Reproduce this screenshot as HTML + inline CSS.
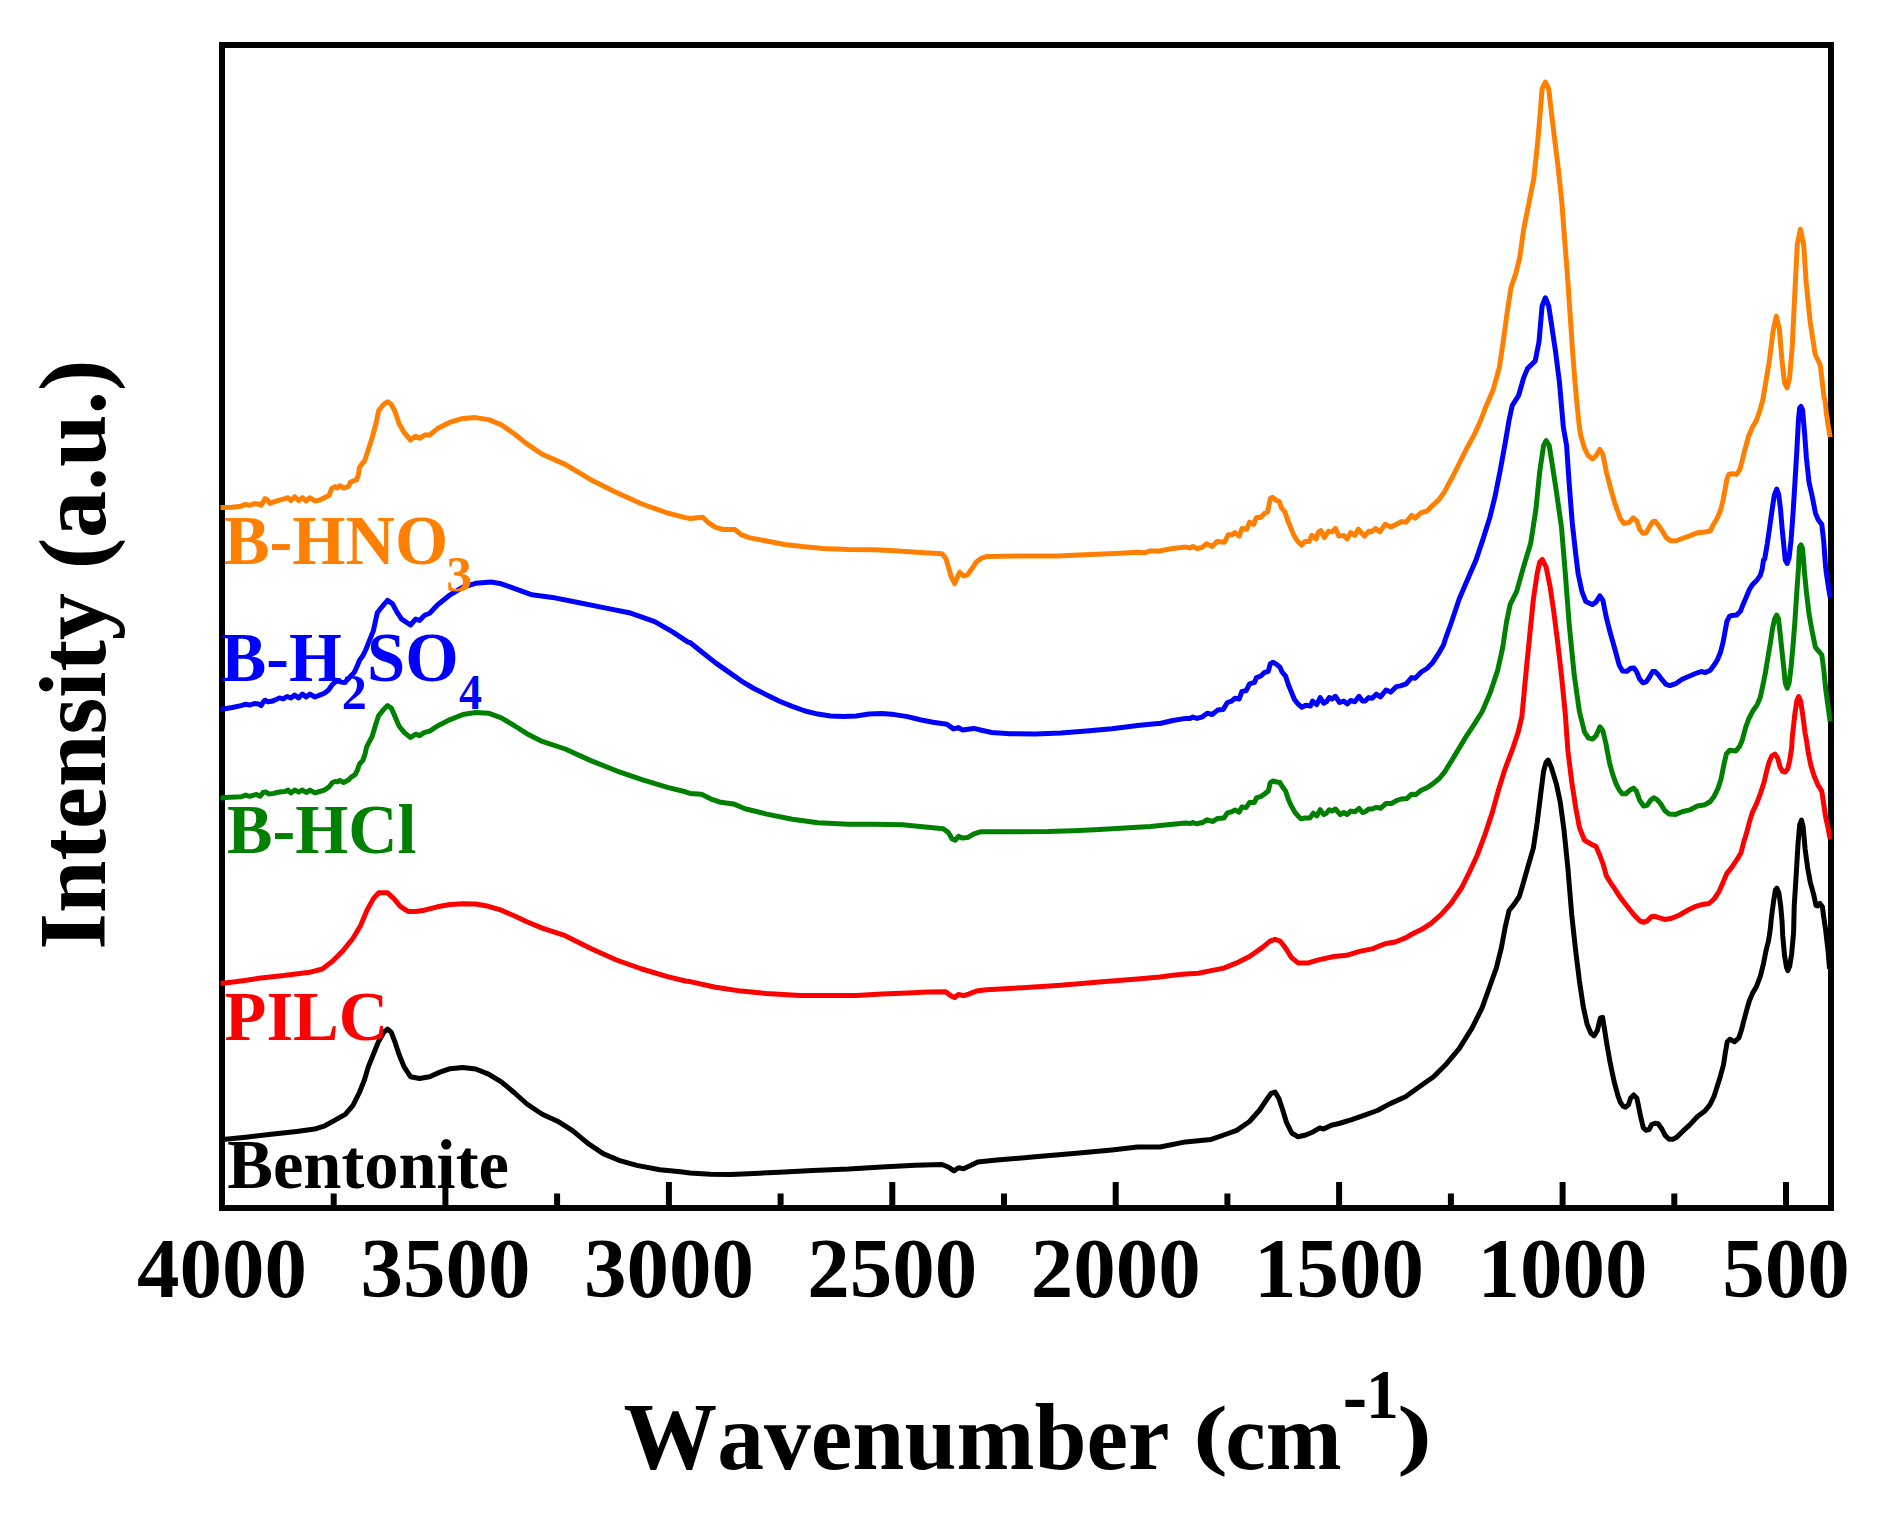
<!DOCTYPE html>
<html><head><meta charset="utf-8"><title>FTIR spectra</title>
<style>
html,body{margin:0;padding:0;background:#fff;}
svg{display:block;}
text{font-kerning:none;font-family:"Liberation Serif",serif;font-weight:bold;}
</style></head>
<body>
<svg width="1877" height="1513" viewBox="0 0 1877 1513">
<rect x="0" y="0" width="1877" height="1513" fill="#fff"/>
<rect x="222" y="45" width="1609" height="1163" fill="none" stroke="#000" stroke-width="6"/>
<g fill="none" stroke-width="5" stroke-linejoin="round" stroke-linecap="butt">
<polyline points="220.5,1139.8 245.6,1137.3 271.1,1134.2 296.7,1131.4 314.6,1129.1 324.8,1125.8 335.1,1120.1 345.3,1114.3 353.0,1105.3 359.4,1092.5 364.5,1079.7 368.3,1066.9 373.4,1054.2 378.6,1041.4 383.7,1032.4 387.5,1029.1 391.3,1032.4 395.2,1042.7 399.0,1054.2 404.1,1066.9 410.5,1076.7 419.5,1078.5 429.7,1076.7 439.9,1072.1 450.2,1068.7 462.9,1067.5 475.7,1069.0 488.5,1074.1 501.3,1081.8 514.1,1092.5 526.9,1104.0 542.2,1114.3 557.6,1121.2 572.9,1130.9 588.2,1143.7 603.6,1153.9 618.9,1160.3 636.8,1165.4 659.9,1169.7 680.3,1171.8 690.0,1172.9 710.5,1174.2 730.9,1174.5 753.9,1173.4 779.5,1172.2 812.7,1170.4 848.6,1169.1 881.8,1167.0 915.0,1165.3 941.9,1164.5 948.3,1167.0 953.9,1170.9 958.5,1167.8 963.6,1168.8 970.0,1165.8 977.7,1161.9 996.9,1160.1 1035.2,1156.8 1073.6,1153.5 1111.9,1149.9 1137.5,1147.1 1160.0,1147.0 1185.6,1141.9 1211.1,1139.4 1223.9,1135.0 1236.7,1130.4 1249.5,1121.5 1259.7,1110.0 1267.4,1098.5 1271.2,1093.3 1275.1,1092.1 1278.9,1098.5 1282.7,1110.0 1286.6,1122.7 1291.7,1133.0 1298.1,1136.8 1305.8,1135.0 1313.4,1131.7 1319.8,1127.9 1323.7,1129.1 1331.3,1125.3 1339.0,1123.5 1351.8,1119.7 1364.6,1115.1 1377.4,1110.5 1390.2,1103.6 1405.5,1096.7 1420.8,1085.7 1433.6,1076.7 1446.4,1063.9 1459.2,1048.6 1472.0,1028.1 1482.2,1007.7 1489.9,986.0 1496.3,968.1 1501.4,947.6 1505.2,927.1 1509.1,910.5 1514.2,904.1 1519.3,896.5 1523.1,883.7 1528.2,865.8 1533.4,847.9 1537.2,822.3 1541.0,791.6 1543.6,771.1 1546.1,762.2 1548.2,760.1 1551.3,767.3 1556.4,783.9 1560.2,801.8 1564.0,830.0 1567.9,868.3 1571.7,914.4 1575.6,950.2 1579.4,980.8 1583.2,1006.4 1587.1,1024.3 1590.9,1033.3 1594.0,1035.8 1597.3,1030.7 1600.4,1017.9 1602.6,1017.4 1604.5,1029.0 1607.1,1045.6 1610.3,1063.6 1614.1,1081.5 1617.9,1095.6 1620.3,1102.1 1622.8,1105.9 1625.4,1107.2 1628.6,1104.6 1630.5,1098.2 1633.7,1095.0 1636.9,1098.2 1638.8,1107.2 1640.8,1117.4 1643.3,1127.7 1645.9,1130.3 1649.1,1129.6 1651.7,1124.5 1654.9,1123.2 1658.1,1123.8 1661.9,1129.0 1665.1,1135.4 1669.0,1139.2 1672.8,1139.2 1676.7,1137.3 1683.1,1130.9 1689.5,1125.1 1697.2,1116.8 1704.9,1111.0 1710.0,1104.6 1713.8,1096.9 1717.1,1086.7 1720.3,1076.4 1723.5,1064.9 1725.4,1052.1 1727.3,1041.8 1729.9,1039.2 1734.4,1041.8 1738.8,1037.9 1741.4,1030.3 1743.3,1022.6 1746.8,1009.7 1749.4,1000.8 1752.6,993.1 1756.4,986.7 1760.3,976.4 1763.5,963.6 1766.0,950.8 1768.6,940.5 1770.5,927.7 1771.2,919.5 1773.7,900.3 1775.4,890.0 1776.9,888.1 1778.8,892.6 1780.8,906.7 1782.1,922.1 1782.7,935.4 1784.6,955.9 1786.5,967.4 1787.8,970.6 1789.7,966.2 1791.7,953.3 1793.6,932.8 1794.2,906.7 1796.2,874.6 1798.1,842.6 1799.7,824.6 1801.5,820.1 1803.2,827.2 1805.1,849.0 1807.7,868.2 1810.3,882.3 1813.5,893.8 1816.0,905.4 1817.9,906.0 1819.9,903.5 1822.4,906.7 1823.7,916.9 1825.6,929.7 1828.2,952.1 1829.5,968.7" stroke="#000000"/>
<polyline points="220.5,983.5 235.3,981.8 248.1,980.0 260.9,977.9 283.9,975.4 309.5,972.3 322.3,969.0 332.5,961.3 342.7,951.1 353.0,938.3 360.6,925.5 367.0,910.2 373.4,898.6 378.6,892.8 387.5,892.8 393.9,898.6 400.3,906.3 408.0,911.4 415.6,911.4 424.6,910.2 437.4,906.8 450.2,904.5 462.9,903.8 475.7,904.0 488.5,906.3 501.3,910.2 514.1,915.8 526.9,921.7 542.2,928.1 565.2,935.7 590.8,948.5 616.4,960.0 641.9,969.0 667.5,976.6 685.4,981.0 690.0,981.6 715.6,987.2 741.1,991.1 766.7,993.6 800.0,995.4 833.2,995.4 856.2,995.4 881.8,994.1 907.4,993.1 927.8,992.1 945.7,991.8 950.8,995.7 954.7,997.5 958.5,994.4 963.6,995.7 968.7,994.1 976.4,991.1 986.6,989.8 1022.4,987.7 1060.8,985.2 1099.2,982.1 1137.5,979.1 1160.0,977.0 1172.8,975.2 1185.6,973.9 1198.4,973.2 1211.1,970.6 1223.9,968.1 1236.7,962.9 1249.5,956.5 1262.3,947.6 1270.0,941.2 1275.1,939.4 1280.2,941.2 1285.3,947.6 1291.7,957.8 1298.1,962.9 1308.3,962.9 1318.6,959.9 1333.9,956.5 1346.7,955.3 1359.5,951.4 1372.3,948.9 1385.0,943.8 1395.3,942.0 1405.5,937.9 1413.2,933.5 1423.4,928.4 1431.1,923.3 1441.3,914.4 1451.5,902.8 1461.8,887.5 1469.4,872.2 1477.1,855.5 1484.8,835.1 1492.4,812.1 1498.8,789.0 1505.2,768.6 1512.9,748.1 1518.0,732.8 1521.9,716.6 1525.7,675.7 1529.5,637.4 1533.4,599.0 1537.2,573.4 1539.8,561.9 1542.3,559.4 1546.1,567.0 1550.0,586.2 1553.8,611.8 1557.7,642.5 1561.5,675.7 1565.3,714.1 1567.9,750.7 1571.7,781.4 1575.6,806.9 1579.4,827.4 1584.5,840.2 1590.9,844.0 1596.0,846.6 1599.9,855.5 1603.2,864.4 1606.4,875.9 1610.3,882.3 1614.7,888.7 1619.2,895.8 1624.4,902.8 1629.5,909.2 1634.6,915.6 1639.7,920.8 1643.6,922.3 1647.4,920.8 1651.3,916.7 1655.1,916.3 1660.3,918.2 1665.4,919.5 1671.8,918.2 1679.5,915.0 1687.2,910.5 1694.9,906.7 1702.6,904.4 1709.0,903.5 1714.1,899.0 1719.2,891.3 1723.1,882.3 1726.9,873.3 1732.1,866.9 1737.2,859.2 1741.0,852.8 1743.6,842.6 1746.8,832.3 1749.4,822.1 1752.6,811.8 1756.4,804.1 1760.3,793.8 1764.1,782.3 1766.7,770.8 1769.2,761.8 1771.8,756.0 1775.0,754.1 1777.6,757.9 1780.1,766.9 1782.7,771.4 1785.3,772.1 1787.8,768.8 1789.7,760.5 1791.7,747.7 1792.3,736.9 1794.9,713.8 1796.8,701.0 1798.7,696.5 1800.6,701.0 1802.6,713.8 1805.1,733.1 1806.4,740.0 1808.3,752.8 1810.9,765.6 1814.1,775.9 1817.9,784.9 1821.8,791.3 1823.7,804.1 1825.6,816.9 1828.2,828.5 1830.1,838.7" stroke="#FF0000"/>
<polyline points="220.5,797.9 229.5,797.3 241.0,796.8 245.8,795.1 249.6,796.3 256.4,794.4 260.2,796.3 263.1,792.5 265.9,792.0 268.8,794.1 273.6,793.4 279.4,792.0 285.1,791.5 288.0,790.1 290.9,792.9 294.7,790.1 298.6,792.0 302.4,790.1 306.2,792.5 310.1,790.1 314.9,792.9 319.7,791.5 324.4,790.1 329.2,786.7 332.1,782.9 335.0,781.4 337.4,781.9 339.8,780.5 343.6,782.4 348.4,780.0 351.3,777.1 355.1,774.7 357.5,769.9 359.4,764.2 362.8,760.3 365.2,753.6 366.6,746.9 372.2,736.3 376.0,723.5 378.6,715.8 383.7,709.4 387.5,705.6 391.3,708.1 395.2,717.1 399.0,726.0 404.1,732.4 410.5,737.5 415.6,734.2 419.5,735.7 424.6,732.4 429.7,731.1 437.4,726.0 450.2,719.6 462.9,714.5 475.7,712.5 488.5,713.2 501.3,717.8 514.1,725.5 526.9,733.7 542.2,741.4 565.2,749.0 590.8,760.6 616.4,770.8 641.9,779.7 667.5,787.4 685.4,791.8 690.0,793.4 701.5,794.2 710.5,798.8 720.7,802.3 733.5,803.9 745.0,808.7 766.7,814.1 792.3,819.2 817.9,822.8 848.6,824.3 874.1,824.3 902.3,824.8 920.2,826.4 943.2,828.7 948.3,832.5 952.1,838.9 955.4,840.2 958.5,836.4 962.3,838.1 967.5,837.6 973.9,833.8 980.3,831.8 1009.7,831.8 1048.0,831.5 1073.6,830.7 1099.2,829.5 1124.7,827.9 1150.3,826.4 1160.0,825.6 1172.8,824.3 1185.6,823.1 1190.0,823.6 1192.8,822.6 1196.9,823.8 1202.5,822.5 1207.3,819.8 1212.9,821.5 1217.7,818.4 1223.9,818.0 1227.4,812.9 1231.6,811.8 1235.0,810.1 1239.2,812.2 1241.9,806.9 1246.1,807.6 1249.6,802.4 1254.4,802.4 1256.5,797.9 1260.6,796.6 1264.8,793.8 1268.3,791.0 1270.3,782.7 1273.1,781.0 1276.6,782.0 1279.8,782.4 1282.1,786.2 1285.6,791.0 1288.3,799.3 1291.1,805.6 1294.6,811.8 1298.0,815.9 1300.8,818.7 1305.0,818.0 1309.8,818.0 1313.3,813.2 1316.7,815.9 1320.2,809.7 1323.7,814.6 1326.4,813.2 1329.2,809.7 1332.0,811.1 1335.4,809.0 1340.3,814.6 1343.8,812.5 1347.2,814.6 1350.7,811.1 1354.8,811.8 1359.0,808.3 1362.5,812.5 1365.2,811.8 1368.7,809.0 1372.2,809.0 1376.3,807.4 1380.5,808.3 1386.0,803.5 1391.5,803.5 1396.4,800.7 1401.2,799.0 1406.8,798.6 1411.6,794.2 1415.8,794.5 1421.3,790.3 1426.9,787.8 1432.4,784.1 1439.3,778.5 1444.9,771.6 1450.0,763.3 1451.5,760.9 1459.2,748.1 1466.9,735.3 1474.5,723.8 1482.2,711.5 1489.9,693.6 1497.6,670.6 1502.7,647.6 1506.5,622.0 1510.3,604.1 1516.7,591.3 1523.1,568.3 1530.8,542.7 1535.9,509.5 1539.8,471.1 1543.6,445.6 1546.1,440.5 1549.2,445.6 1552.5,466.0 1556.4,491.6 1561.5,527.4 1565.3,573.4 1569.2,624.6 1574.3,675.7 1579.4,711.5 1584.5,732.0 1588.3,737.9 1592.7,739.1 1596.0,735.8 1599.9,726.9 1602.9,730.7 1606.2,744.8 1607.1,750.3 1609.6,763.1 1612.8,774.6 1616.0,783.6 1619.2,790.0 1622.4,793.8 1625.6,793.8 1630.1,790.0 1633.6,788.1 1636.5,791.3 1639.7,800.3 1643.6,806.0 1646.8,805.4 1650.6,800.3 1653.8,797.7 1657.1,799.6 1660.9,804.1 1664.7,810.5 1669.2,814.1 1675.6,814.4 1682.1,811.8 1689.7,809.9 1697.4,806.0 1705.1,804.7 1710.3,801.5 1714.1,796.4 1717.9,788.7 1721.2,778.5 1723.7,765.6 1726.3,754.1 1729.5,750.3 1735.9,750.9 1739.7,746.4 1742.3,740.0 1745.5,727.9 1748.7,719.0 1752.6,711.3 1757.1,704.9 1760.3,697.2 1762.8,685.6 1765.4,672.8 1767.9,657.4 1770.5,642.1 1772.4,629.2 1774.6,619.0 1776.7,615.1 1778.5,619.0 1780.1,633.1 1782.1,652.3 1784.0,670.3 1785.3,683.1 1787.2,688.2 1789.1,683.1 1791.0,667.7 1792.9,647.2 1794.9,621.5 1796.8,592.1 1798.5,567.7 1799.4,547.4 1801.0,544.9 1802.6,548.7 1804.5,572.8 1806.4,592.1 1809.0,613.8 1812.2,631.8 1815.4,647.2 1817.9,650.4 1821.8,654.9 1823.7,669.0 1825.6,688.2 1828.2,707.4 1830.1,721.5" stroke="#008000"/>
<polyline points="220.5,709.5 232.4,707.5 241.0,705.6 245.8,704.2 249.6,705.1 254.4,703.5 258.3,703.9 261.2,705.6 263.1,702.3 265.0,700.3 267.9,701.8 271.7,701.3 275.5,699.9 279.4,697.9 283.2,698.9 287.0,696.5 290.9,697.9 294.7,695.1 298.6,697.9 302.4,694.1 306.2,697.0 310.1,694.1 314.9,697.0 319.7,695.1 324.4,693.2 328.3,690.3 331.6,685.5 335.0,682.1 338.8,680.7 341.2,682.1 344.6,682.6 348.4,678.8 351.3,675.4 354.2,672.5 357.1,666.3 359.4,660.5 362.8,655.8 365.7,650.0 368.3,643.4 373.4,630.6 377.3,612.7 382.4,606.3 387.5,600.4 392.6,603.8 396.5,611.4 401.6,619.1 410.5,625.0 415.6,619.1 419.5,620.4 424.6,615.3 429.7,613.2 437.4,605.0 450.2,594.8 462.9,587.1 475.7,583.3 491.1,582.0 501.3,583.8 514.1,588.4 532.0,594.8 552.4,597.4 578.0,602.5 603.6,607.6 629.2,612.7 654.7,621.7 672.6,631.9 688.0,642.1 690.0,642.5 702.8,652.7 715.6,662.9 728.4,671.9 741.1,680.8 753.9,688.5 766.7,694.9 779.5,701.3 792.3,706.4 805.1,711.0 817.9,714.1 830.6,715.9 843.4,716.6 856.2,715.9 869.0,714.1 881.8,713.6 894.6,714.6 907.4,716.6 920.2,719.7 932.9,722.3 947.0,724.3 953.4,728.9 958.5,727.6 962.3,729.9 973.9,728.4 981.5,730.2 991.8,732.5 1009.7,733.8 1035.2,734.0 1060.8,733.0 1086.4,731.0 1111.9,728.7 1137.5,725.6 1158.0,723.5 1160.0,723.5 1172.8,720.5 1185.6,718.4 1190.0,718.4 1192.8,717.0 1196.9,718.4 1202.5,716.8 1207.3,713.2 1212.2,714.5 1217.7,710.1 1223.2,709.4 1227.4,702.5 1231.6,701.1 1235.0,698.3 1239.2,699.0 1241.9,691.4 1246.1,690.7 1249.6,683.8 1254.4,682.4 1256.5,677.6 1260.6,676.2 1264.1,672.7 1268.3,671.3 1270.3,663.7 1273.1,662.3 1276.6,664.4 1280.0,667.2 1282.1,672.0 1285.6,676.2 1288.3,684.5 1291.1,691.4 1294.6,699.7 1298.0,703.9 1301.9,707.3 1305.7,705.3 1310.5,705.9 1312.6,701.1 1316.7,704.6 1320.2,697.6 1323.7,703.2 1326.4,701.8 1329.2,697.6 1332.0,699.0 1335.4,696.3 1339.6,702.5 1343.8,701.1 1347.2,703.9 1350.7,700.4 1354.8,701.8 1359.0,696.3 1362.5,701.1 1365.2,701.1 1368.7,697.6 1372.2,698.3 1376.3,694.2 1380.5,696.9 1386.0,690.0 1390.9,692.1 1396.4,686.6 1400.5,685.9 1406.1,683.8 1411.6,677.6 1415.1,678.2 1421.3,672.0 1426.9,668.5 1432.4,663.0 1437.9,654.7 1443.5,645.0 1445.1,639.9 1451.5,622.0 1459.2,599.0 1466.9,581.1 1475.8,560.6 1483.5,537.6 1489.9,517.2 1495.0,496.7 1500.1,471.1 1505.2,443.0 1509.1,420.0 1512.2,405.7 1518.6,395.5 1523.7,377.6 1527.5,368.6 1535.2,360.9 1539.0,341.8 1542.1,306.0 1545.4,297.8 1548.7,306.0 1551.8,326.4 1555.6,352.0 1559.5,382.7 1563.3,426.9 1566.6,445.6 1569.2,483.9 1572.2,522.3 1575.6,553.0 1578.1,573.4 1581.9,591.3 1585.8,601.6 1592.2,604.6 1596.0,602.1 1599.9,595.9 1602.9,600.3 1606.2,616.9 1610.1,632.3 1615.2,650.2 1619.2,665.1 1622.4,670.9 1626.9,671.3 1630.8,668.3 1634.0,668.1 1636.5,671.5 1639.7,679.2 1642.9,682.8 1646.2,681.8 1649.4,677.3 1652.6,671.5 1655.1,671.5 1658.3,674.7 1662.2,679.9 1666.0,684.4 1669.9,685.6 1675.6,683.7 1682.1,679.2 1689.7,676.0 1697.4,672.8 1701.3,671.5 1705.1,672.6 1710.3,670.3 1714.1,665.1 1717.3,660.0 1720.5,652.3 1723.1,642.1 1725.0,631.8 1726.9,621.5 1729.5,616.4 1732.1,615.4 1736.5,615.1 1740.4,611.3 1742.9,604.9 1746.2,597.2 1749.4,589.5 1752.6,584.4 1757.1,579.9 1760.3,575.4 1762.2,569.0 1763.5,560.0 1764.7,559.0 1767.3,543.6 1769.9,525.6 1772.4,507.7 1774.4,494.9 1776.7,489.1 1778.8,494.9 1780.5,509.0 1782.1,528.2 1784.0,547.4 1785.3,560.3 1787.2,563.5 1789.1,557.7 1791.0,541.0 1792.9,515.4 1794.9,483.3 1796.8,451.3 1798.5,419.2 1799.7,407.7 1801.0,406.4 1802.6,410.3 1804.5,432.1 1806.4,457.7 1809.0,482.1 1812.2,496.2 1815.4,512.8 1817.9,519.2 1821.8,524.4 1823.7,541.0 1825.6,566.7 1826.3,572.8 1828.2,585.6 1830.1,597.2" stroke="#0000FF"/>
<polyline points="220.5,507.6 232.4,507.3 241.0,506.3 244.9,504.4 249.6,505.3 254.4,503.7 258.3,503.9 261.2,505.3 263.1,502.0 265.0,498.6 267.4,500.1 269.8,503.4 273.6,502.0 279.4,500.1 285.1,498.6 288.0,497.7 290.9,500.6 294.7,496.7 298.6,500.6 302.4,497.7 306.2,501.0 310.1,497.7 314.9,501.0 319.7,500.1 324.4,497.7 329.2,495.3 331.6,488.6 335.0,486.6 337.4,488.1 339.8,485.7 343.6,488.1 348.4,486.6 350.3,482.3 353.2,480.9 356.6,479.9 358.5,474.2 359.4,467.5 361.8,464.1 364.7,460.8 366.6,455.0 372.2,437.5 376.0,423.5 378.6,410.7 383.7,404.3 387.5,401.7 391.3,404.3 395.2,412.0 399.0,423.5 404.1,432.4 410.5,440.1 415.6,436.3 419.5,438.3 424.6,435.0 429.7,435.0 437.4,428.6 450.2,422.2 462.9,418.4 475.7,417.6 488.5,419.6 501.3,424.8 514.1,433.7 526.9,443.9 542.2,454.2 565.2,464.4 590.8,479.7 616.4,492.5 641.9,504.0 667.5,513.0 685.4,517.6 690.0,518.5 697.7,517.7 702.8,517.2 707.9,522.3 715.6,527.4 723.2,529.5 734.8,529.5 741.1,534.6 748.8,537.6 766.7,541.0 784.6,544.5 802.5,546.6 823.0,548.4 848.6,549.4 874.1,549.7 894.6,550.7 920.2,552.5 941.9,553.7 945.7,558.1 948.8,568.3 951.4,577.3 954.7,583.7 957.2,577.3 959.8,572.2 963.6,576.0 967.5,574.7 971.3,569.6 976.4,561.9 981.5,558.1 986.6,556.6 1022.4,556.0 1058.2,556.0 1078.7,555.0 1114.5,553.5 1137.5,552.2 1145.2,552.7 1150.3,550.9 1160.5,550.9 1165.7,549.7 1172.8,548.4 1185.6,547.1 1190.0,547.9 1192.8,546.5 1196.9,548.6 1202.5,547.2 1206.6,543.7 1212.2,546.5 1217.0,541.6 1224.6,542.3 1228.1,534.7 1232.2,534.7 1235.0,532.6 1239.2,536.1 1241.9,528.5 1246.8,529.2 1249.6,522.2 1253.7,524.3 1256.5,517.4 1260.6,517.4 1264.8,513.2 1267.6,511.9 1270.3,498.7 1272.4,497.3 1275.9,500.1 1279.3,501.5 1281.4,507.7 1284.9,511.9 1287.7,520.2 1290.4,527.1 1293.9,535.4 1297.4,540.9 1301.5,545.1 1305.0,541.6 1309.1,541.6 1311.9,535.4 1316.1,538.9 1318.1,532.6 1320.9,530.6 1324.4,537.5 1328.5,531.3 1332.0,531.9 1335.4,528.5 1338.9,536.1 1343.8,535.4 1347.2,538.9 1350.7,532.6 1354.8,535.4 1358.3,529.2 1361.8,533.3 1364.5,536.1 1368.7,531.3 1371.5,531.9 1375.6,528.5 1379.8,531.9 1385.3,524.3 1390.9,527.1 1396.4,524.3 1401.9,521.6 1406.1,522.2 1411.6,515.3 1415.1,518.1 1421.3,512.6 1426.9,511.2 1432.4,505.6 1439.3,499.4 1444.9,491.1 1450.0,481.4 1451.5,478.8 1459.2,463.5 1466.9,448.1 1474.5,434.1 1480.9,420.0 1485.3,408.2 1493.0,390.3 1499.4,367.3 1503.2,341.8 1507.0,313.6 1510.9,288.1 1516.0,272.7 1519.8,257.4 1523.7,229.2 1528.8,203.7 1533.9,178.1 1537.7,142.3 1540.3,111.6 1542.1,88.6 1545.4,82.2 1548.7,88.6 1551.3,111.6 1554.4,137.2 1558.2,167.9 1562.0,203.7 1564.6,239.5 1567.1,270.2 1569.7,308.5 1572.3,346.9 1574.8,380.1 1577.4,408.2 1579.4,426.9 1580.7,435.3 1584.5,448.1 1588.3,455.8 1592.7,458.9 1596.0,455.8 1599.9,449.4 1602.9,454.5 1606.2,471.1 1610.1,486.5 1615.2,504.4 1620.3,518.5 1624.1,523.6 1629.3,522.3 1633.1,517.9 1636.9,521.0 1639.7,529.5 1642.9,533.3 1646.2,532.7 1649.4,526.9 1652.6,521.8 1655.1,521.2 1658.3,525.0 1662.2,530.8 1666.0,537.2 1669.9,540.4 1675.6,541.0 1682.1,538.5 1689.7,535.9 1697.4,532.7 1705.1,532.1 1710.3,530.8 1713.5,524.4 1717.3,517.9 1720.5,510.3 1723.1,500.0 1725.0,489.7 1726.9,479.5 1728.8,474.4 1732.1,473.7 1736.5,474.4 1739.7,469.9 1742.3,460.3 1745.5,447.4 1748.7,435.9 1752.6,426.9 1756.4,420.5 1759.6,411.5 1762.8,400.0 1764.0,392.9 1769.2,362.2 1773.0,331.5 1776.3,316.2 1779.4,329.0 1781.9,359.7 1784.5,382.7 1787.1,387.8 1789.6,377.6 1792.2,346.9 1794.7,295.7 1797.3,244.6 1800.4,229.2 1803.7,244.6 1806.2,282.9 1810.1,321.3 1815.2,354.5 1820.3,364.8 1824.1,398.0 1825.0,400.0 1826.3,412.8 1828.2,425.6 1830.1,437.2" stroke="#FF8000"/>
</g>
<g stroke="#000" stroke-width="6" stroke-linecap="butt"><line x1="333.7" y1="1208" x2="333.7" y2="1193.5"/><line x1="445.4" y1="1208" x2="445.4" y2="1182"/><line x1="557.1" y1="1208" x2="557.1" y2="1193.5"/><line x1="668.9" y1="1208" x2="668.9" y2="1182"/><line x1="780.6" y1="1208" x2="780.6" y2="1193.5"/><line x1="892.3" y1="1208" x2="892.3" y2="1182"/><line x1="1004.0" y1="1208" x2="1004.0" y2="1193.5"/><line x1="1115.7" y1="1208" x2="1115.7" y2="1182"/><line x1="1227.4" y1="1208" x2="1227.4" y2="1193.5"/><line x1="1339.1" y1="1208" x2="1339.1" y2="1182"/><line x1="1450.9" y1="1208" x2="1450.9" y2="1193.5"/><line x1="1562.6" y1="1208" x2="1562.6" y2="1182"/><line x1="1674.3" y1="1208" x2="1674.3" y2="1193.5"/><line x1="1786.0" y1="1208" x2="1786.0" y2="1182"/></g>
<g font-size="85" fill="#000"><text x="222.0" y="1297.2" text-anchor="middle">4000</text><text x="445.4" y="1297.2" text-anchor="middle">3500</text><text x="668.9" y="1297.2" text-anchor="middle">3000</text><text x="892.3" y="1297.2" text-anchor="middle">2500</text><text x="1115.7" y="1297.2" text-anchor="middle">2000</text><text x="1339.1" y="1297.2" text-anchor="middle">1500</text><text x="1562.6" y="1297.2" text-anchor="middle">1000</text><text x="1786.0" y="1297.2" text-anchor="middle">500</text></g>
<text transform="translate(223.91,564.00) scale(0.9914,1)" font-size="69" fill="#FF8000">B-HNO</text>
<text transform="translate(446.32,590.90) scale(1.0381,1.0000)" font-size="50" fill="#FF8000">3</text>
<text transform="translate(221.01,680.70) scale(0.9851,1)" font-size="69" fill="#0000FF">B-H</text>
<text transform="translate(341.69,708.90) scale(1.0048,1.0000)" font-size="50" fill="#0000FF">2</text>
<text transform="translate(366.91,680.70) scale(0.9965,1)" font-size="69" fill="#0000FF">SO</text>
<text transform="translate(458.98,708.90) scale(0.9217,0.9970)" font-size="50" fill="#0000FF">4</text>
<text transform="translate(227.11,852.80) scale(0.9884,1)" font-size="69" fill="#008000">B-HCl</text>
<text transform="translate(224.51,1040.00) scale(0.9937,1)" font-size="69" fill="#FF0000">PILC</text>
<text transform="translate(227.21,1188.10) scale(0.9932,1)" font-size="69" fill="#000000">Bentonite</text>
<text transform="translate(623.51,1468.60) scale(0.9898,1)" font-size="94.6" fill="#000000">Wavenumber </text>
<text transform="translate(1193.32,1460.16) scale(1.0958,0.8372)" font-size="94.6" fill="#000000">(</text>
<text transform="translate(1225.31,1468.80) scale(0.9638,1)" font-size="94.6" fill="#000000">cm</text>
<text transform="translate(1342.64,1422.55) scale(1.0778,1.2500)" font-size="68" fill="#000000">-</text>
<text transform="translate(1366.08,1417.80) scale(0.9640,1.0386)" font-size="68" fill="#000000">1</text>
<text transform="translate(1397.21,1460.33) scale(1.0958,0.8337)" font-size="94.6" fill="#000000">)</text>
<text transform="translate(105.00,949.69) rotate(-90) scale(0.9983,1)" font-size="94.6" fill="#000000">Intensity (a.u.)</text>
</svg>
</body></html>
